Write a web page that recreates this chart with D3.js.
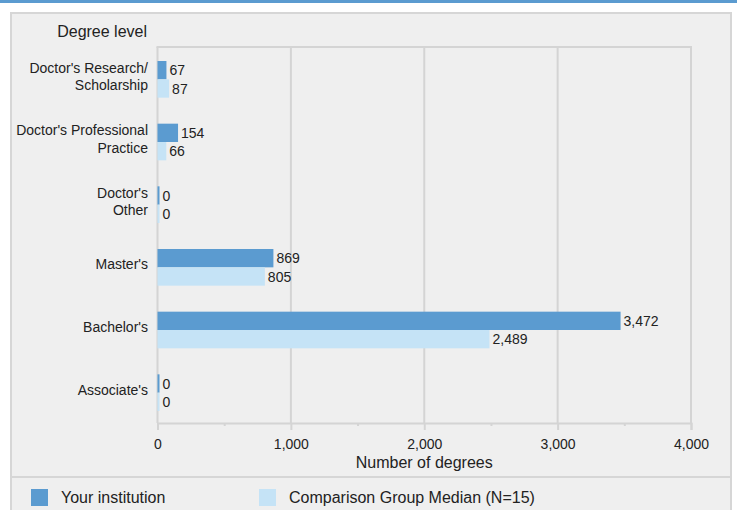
<!DOCTYPE html>
<html>
<head>
<meta charset="utf-8">
<script src="https://cdn.jsdelivr.net/npm/d3@7"></script>
<style>
  body { margin: 0; background: #fff; font-family: "Liberation Sans", Arial, sans-serif; }
  svg text { fill: #222; }
</style>
</head>
<body>
<div id="chart"></div>
<script>
const categories = [
  ["Doctor's Research/", "Scholarship"],
  ["Doctor's Professional", "Practice"],
  ["Doctor's", "Other"],
  ["Master's"],
  ["Bachelor's"],
  ["Associate's"]
];
const institution = [67, 154, 0, 869, 3472, 0];
const comparison = [87, 66, 0, 805, 2489, 0];
const xTicks = [0, 1000, 2000, 3000, 4000];
const seriesNames = ["Your institution", "Comparison Group Median (N=15)"];
const colors = ["#5b9bd0", "#c5e3f6"];

const width = 737, height = 510;
const svg = d3.select('#chart').append('svg')
  .attr('width', width)
  .attr('height', height);

// top strip and panel
svg.append('rect').attr('x', 0).attr('y', 0).attr('width', width).attr('height', 3).attr('fill', '#5b9bd0');
svg.append('rect').attr('x', 11).attr('y', 13).attr('width', 720).attr('height', 510)
  .attr('fill', '#efefef').attr('stroke', '#d6d6d6').attr('stroke-width', 2);

const plotTop = 47, plotBottom = 423;
const x = d3.scaleLinear().domain([0, 4000]).range([157.5, 691]);
const y = d3.scaleBand().domain(d3.range(categories.length))
  .range([48, 424]).paddingInner(0.415).paddingOuter(0.2075);
const sub = d3.scaleBand().domain([0, 1]).range([0, y.bandwidth()]);

// gridlines
svg.append('g').selectAll('line').data(xTicks).enter().append('line')
  .attr('x1', d => x(d)).attr('x2', d => x(d))
  .attr('y1', plotTop).attr('y2', plotBottom)
  .attr('stroke', '#d4d4d4').attr('stroke-width', 2);
svg.append('line').attr('x1', x(0) - 1).attr('x2', x(4000) + 1)
  .attr('y1', plotTop).attr('y2', plotTop)
  .attr('stroke', '#d4d4d4').attr('stroke-width', 2);

// x axis
const xAxis = d3.axisBottom(x).tickValues(xTicks).tickFormat(d3.format(',')).tickSize(7).tickPadding(9);
const ax = svg.append('g').attr('transform', `translate(0,${plotBottom})`).call(xAxis);
ax.select('.domain').attr('stroke', '#d4d4d4').attr('stroke-width', 2);
ax.selectAll('.tick line').attr('stroke', '#d4d4d4').attr('stroke-width', 2);
ax.selectAll('.tick text').attr('font-size', 14).attr('font-family', '"Liberation Sans", Arial, sans-serif').attr('fill', '#222');
const minor = d3.axisBottom(x).tickValues([500, 1500, 2500, 3500]).tickFormat('').tickSize(3);
const mx = svg.append('g').attr('transform', `translate(0,${plotBottom})`).call(minor);
mx.select('.domain').remove();
mx.selectAll('.tick line').attr('stroke', '#d4d4d4').attr('stroke-width', 2);

// bars
const series = [institution, comparison];
series.forEach((vals, s) => {
  const g = svg.append('g');
  g.selectAll('rect').data(vals).enter().append('rect')
    .attr('x', x(0))
    .attr('y', (d, i) => y(i) + sub(s))
    .attr('width', d => Math.max(2, x(d) - x(0)))
    .attr('height', sub.bandwidth())
    .attr('fill', colors[s]);
  g.selectAll('text').data(vals).enter().append('text')
    .attr('x', d => Math.max(x(0) + 2, x(d)) + 3)
    .attr('y', (d, i) => y(i) + sub(s) + sub.bandwidth() / 2)
    .attr('dy', '0.36em')
    .attr('font-size', 14)
    .text(d => d3.format(',')(d));
});

// category labels
const cl = svg.append('g').selectAll('text').data(categories).enter().append('text')
  .attr('text-anchor', 'end')
  .attr('font-size', 14)
  .attr('y', (d, i) => y(i) + y.bandwidth() / 2 + 2 - (d.length - 1) * 8.8)
  .attr('dy', '0.36em');
cl.selectAll('tspan').data(d => d).enter().append('tspan')
  .attr('x', 148)
  .attr('dy', (d, i) => i === 0 ? 0 : 17.6)
  .text(d => d);

// axis titles
svg.append('text').attr('x', 147).attr('y', 37).attr('text-anchor', 'end')
  .attr('font-size', 16).text('Degree level');
svg.append('text').attr('x', x(2000)).attr('y', 468).attr('text-anchor', 'middle')
  .attr('font-size', 16).text('Number of degrees');

// legend
svg.append('line').attr('x1', 11).attr('x2', 731).attr('y1', 477).attr('y2', 477)
  .attr('stroke', '#d6d6d6').attr('stroke-width', 2);
const legX = [31, 259];
seriesNames.forEach((name, i) => {
  svg.append('rect').attr('x', legX[i]).attr('y', 489).attr('width', 17).attr('height', 17).attr('fill', colors[i]);
  svg.append('text').attr('x', legX[i] + 30).attr('y', 503).attr('font-size', 16).text(name);
});
</script>
</body>
</html>
